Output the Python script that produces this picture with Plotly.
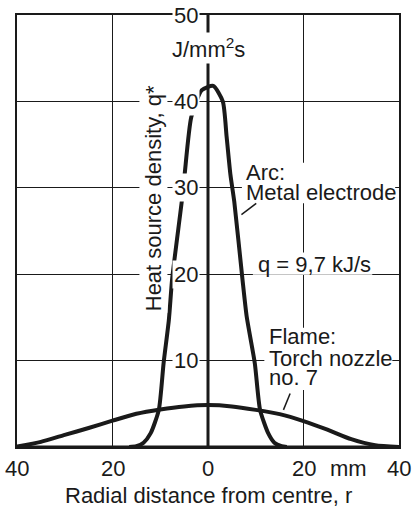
import plotly.graph_objects as go

# ---- data ----
arc_r = [-16.5, -15.0, -13.5, -12.0, -10.3, -9.3, -8.2, -7.5, -5.5, -4.9, -3.5, -1.3,
         1.1, 3.1, 3.9, 4.7, 5.5, 7.2, 8.1, 9.8, 10.9, 12.6, 13.9, 15.4, 16.5]
arc_q = [0.0, 0.1, 0.5, 1.6, 4.3, 9.7, 14.7, 19.5, 28.4, 31.5, 38.2, 41.3,
         41.8, 40.0, 35.9, 31.5, 28.4, 19.5, 15.1, 9.7, 4.3, 1.6, 0.5, 0.1, 0.0]

flame_r = [-40, -35, -30, -25, -20, -15, -10, -5, 0, 5, 10, 15, 20, 25, 30, 35, 40]
flame_q = [0.05, 0.6, 1.4, 2.2, 3.05, 3.85, 4.35, 4.7, 4.85, 4.7, 4.3, 3.8, 3.0, 2.0, 0.9, 0.2, 0.0]

x_tick_vals = [-40, -20, 0, 20, 40]
x_tick_text = ["40", "20", "0", "20", "40"]
y_tick_vals = [10, 20, 30, 40, 50]
y_tick_text = ["10", "20", "30", "40", "50"]

FONT = "Liberation Sans, Arial, Helvetica, sans-serif"
INK = "#1a1a1a"
FS = 22
PLOT_H = 432.0  # plot-area height in px (507 - 15 - 60)

fig = go.Figure()
for xs, ys in ((flame_r, flame_q), (arc_r, arc_q)):
    fig.add_trace(go.Scatter(
        x=xs, y=ys, mode="lines", hoverinfo="skip", showlegend=False,
        line=dict(color=INK, width=4, shape="spline", smoothing=0.6),
    ))


def clearing(x0, x1, y0, y1):
    return dict(type="rect", xref="x", yref="y", x0=x0, x1=x1, y0=y0, y1=y1,
                line=dict(width=0), fillcolor="white", layer="above")


shapes = [
    # central ordinate
    dict(type="line", xref="x", yref="y", x0=0, x1=0, y0=0, y1=50,
         line=dict(color=INK, width=3), layer="below"),
    # heavy baseline
    dict(type="line", xref="x", yref="y", x0=-40, x1=40, y0=0, y1=0,
         line=dict(color=INK, width=3), layer="above"),
    # white clearings of the grid behind the text blocks
    clearing(7.1, 39.2, 28.2, 32.9),   # Arc: / Metal electrode
    clearing(9.4, 34.4, 19.95, 22.5),  # q = 9,7 kJ/s
    clearing(11.8, 38.6, 6.6, 13.8),   # Flame: / Torch nozzle / no. 7
    # leader lines
    dict(type="line", xref="x", yref="y", x0=7.0, y0=26.9, x1=10.1, y1=28.2,
         line=dict(color=INK, width=1.5)),
    dict(type="line", xref="x", yref="y", x0=15.8, y0=4.3, x1=17.2, y1=6.2,
         line=dict(color=INK, width=1.5)),
]

ann = []


def label(text, x, y, xanchor="center", yanchor="middle", size=FS,
          xref="x", yref="y", bg="white", **kw):
    d = dict(text=text, x=x, y=y, xref=xref, yref=yref, showarrow=False,
             xanchor=xanchor, yanchor=yanchor, bgcolor=bg, borderpad=1,
             font=dict(family=FONT, size=size, color=INK))
    d.update(kw)
    ann.append(d)


# y tick labels placed on the central ordinate
for v, t in zip(y_tick_vals, y_tick_text):
    label(t, -1.6, v, xanchor="right")
# x tick labels (below the plot area -> paper y)
for v, t in zip(x_tick_vals, x_tick_text):
    label(t, v, -21.0 / PLOT_H, yref="paper")
label("mm", 29.4, -21.0 / PLOT_H, yref="paper")
label("Radial distance from centre, r", 0, -48.0 / PLOT_H, yref="paper")
label("J/mm<sup>2</sup>s", 0, 46.2)
label("Heat source density, q*", -11.5, 28.8, textangle=-90)

NB = "rgba(0,0,0,0)"
label("Arc:", 7.5, 31.8, xanchor="left", bg=NB)
label("Metal electrode", 7.5, 29.4, xanchor="left", bg=NB)
label("q = 9,7 kJ/s", 10.0, 21.1, xanchor="left", bg=NB)
label("Flame:", 12.3, 12.75, xanchor="left", bg=NB)
label("Torch nozzle", 12.3, 10.25, xanchor="left", bg=NB)
label("no. 7", 12.3, 8.05, xanchor="left", bg=NB)

fig.update_layout(
    width=413, height=507,
    margin=dict(l=17, r=12, t=15, b=60),
    paper_bgcolor="white", plot_bgcolor="white",
    shapes=shapes, annotations=ann,
    xaxis=dict(range=[-40, 40], tickvals=[-20, 20], showticklabels=False,
               ticks="", showgrid=True, gridcolor=INK, gridwidth=1.4,
               zeroline=False, showline=True, mirror=True, linecolor=INK,
               linewidth=1.8, fixedrange=True),
    yaxis=dict(range=[0, 50], tickvals=[10, 20, 30, 40], showticklabels=False,
               ticks="", showgrid=True, gridcolor=INK, gridwidth=1.4,
               zeroline=False, showline=True, mirror=True, linecolor=INK,
               linewidth=1.8, fixedrange=True),
)

fig.write_html("out.html")
